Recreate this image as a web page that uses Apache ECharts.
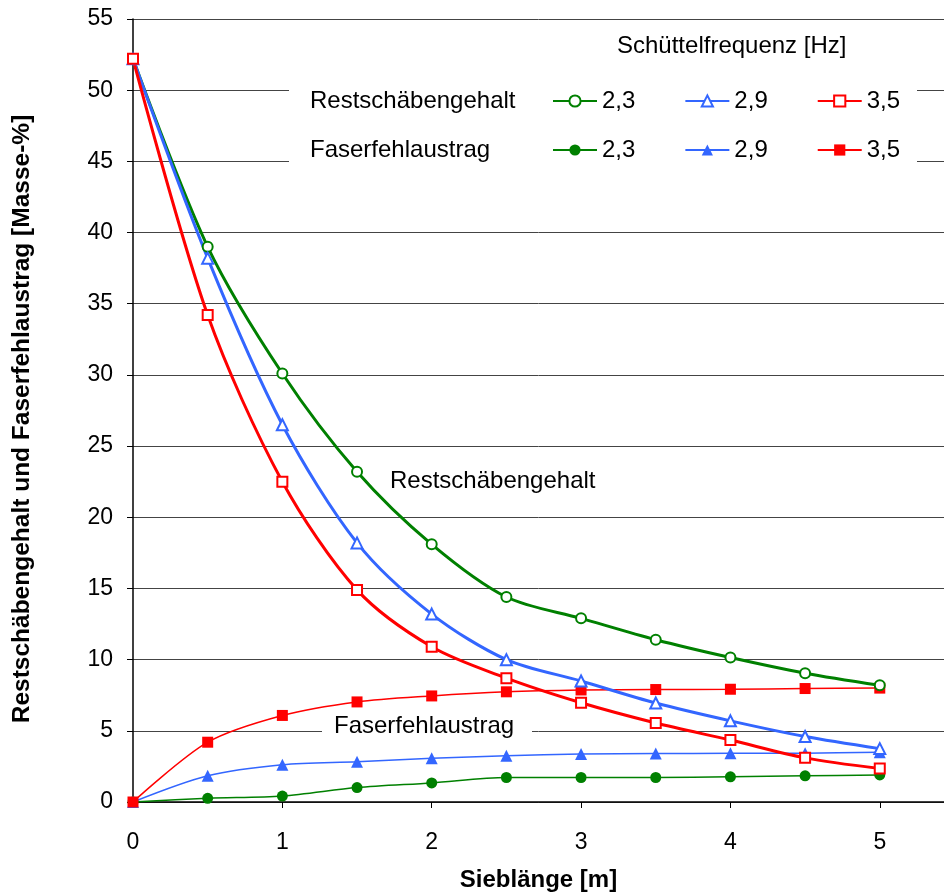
<!DOCTYPE html>
<html>
<head>
<meta charset="utf-8">
<script src="https://cdn.jsdelivr.net/npm/echarts@6/dist/echarts.min.js"></script>
<style>html,body{margin:0;padding:0;background:#fff;}#c{width:944px;height:895px;}</style>
</head>
<body>
<div id="c"></div>
<script>
const xs = [0, 0.5, 1, 1.5, 2, 2.5, 3, 3.5, 4, 4.5, 5];
const rest23 = [52.2, 39.0, 30.1, 23.2, 18.1, 14.4, 12.9, 11.4, 10.15, 9.05, 8.2];
const rest29 = [52.2, 38.2, 26.5, 18.2, 13.2, 10.0, 8.5, 6.95, 5.7, 4.6, 3.75];
const rest35 = [52.2, 34.2, 22.5, 14.9, 10.9, 8.7, 6.97, 5.55, 4.35, 3.1, 2.35];
const faser23 = [0, 0.26, 0.42, 1.01, 1.34, 1.72, 1.72, 1.72, 1.77, 1.84, 1.9];
const faser29 = [0, 1.84, 2.62, 2.83, 3.07, 3.25, 3.37, 3.4, 3.42, 3.43, 3.5];
const faser35 = [0, 4.2, 6.08, 7.03, 7.45, 7.74, 7.87, 7.9, 7.92, 7.97, 8.0];
const yTicks = [0, 5, 10, 15, 20, 25, 30, 35, 40, 45, 50, 55];
const xTicks = [0, 1, 2, 3, 4, 5];

const FONT = 'Liberation Sans, Arial, sans-serif';
const GREEN = '#008000', BLUE = '#3366FF', RED = '#FF0000';

function pairs(vals) { return xs.map((x, i) => [x, vals[i]]); }

function restSeries(name, vals, color, symbol, size) {
  return {
    name: name, type: 'line', data: pairs(vals), smooth: 0.3,
    symbol: symbol, symbolSize: size, showAllSymbol: true,
    lineStyle: { color: color, width: 3 },
    itemStyle: { color: color, borderColor: color, borderWidth: 1.5 },
    z: 3
  };
}
function faserSeries(name, vals, color, symbol, size) {
  return {
    name: name, type: 'line', data: pairs(vals), smooth: 0.3,
    symbol: symbol, symbolSize: size, showAllSymbol: true,
    lineStyle: { color: color, width: 1.5 },
    itemStyle: { color: color, borderColor: color, borderWidth: 0 },
    z: 2
  };
}

const legendText = n => n.split(' ')[1];
const chart = echarts.init(document.getElementById('c'));
chart.setOption({
  animation: false,
  backgroundColor: '#fff',
  textStyle: { fontFamily: FONT },
  grid: { left: 133, top: 19, right: 0, bottom: 93, containLabel: false, outerBoundsMode: 'none' },
  xAxis: {
    type: 'value', min: 0, max: 5.43, interval: 1,
    axisLine: { show: true, lineStyle: { color: '#000', width: 1.5 } },
    axisTick: { show: true, inside: false, length: 6, lineStyle: { color: '#000', width: 1 } },
    splitLine: { show: false },
    axisLabel: {
      fontSize: 23, color: '#000', fontFamily: FONT, margin: 29,
      formatter: v => xTicks.indexOf(v) >= 0 ? String(v) : ''
    },
    name: 'Sieblänge [m]', nameLocation: 'middle', nameGap: 66,
    nameTextStyle: { fontSize: 24, fontWeight: 'bold', color: '#000', fontFamily: FONT }
  },
  yAxis: {
    type: 'value', min: 0, max: 55, interval: 5,
    axisLine: { show: true, lineStyle: { color: '#000', width: 1.5 } },
    axisTick: { show: true, inside: false, length: 6, lineStyle: { color: '#000', width: 1 } },
    splitLine: { show: true, lineStyle: { color: '#444', width: 1 } },
    axisLabel: {
      fontSize: 23, color: '#000', fontFamily: FONT, margin: 20,
      formatter: v => yTicks.indexOf(v) >= 0 ? String(v) : ''
    },
    name: 'Restschäbengehalt und Faserfehlaustrag [Masse-%]', nameLocation: 'middle', nameGap: 98,
    nameTextStyle: { fontSize: 24.5, fontWeight: 'bold', color: '#000', fontFamily: FONT, padding: [0, 17, 0, 0] }
  },
  legend: [
    {
      data: ['R 2,3', 'R 2,9', 'R 3,5'], left: 552, top: 89, padding: 0,
      itemWidth: 44, itemHeight: 14, itemGap: 49, formatter: legendText,
      textStyle: { fontSize: 24, color: '#000', fontFamily: FONT, lineHeight: 24 },
      z: 10, selectedMode: false
    },
    {
      data: ['F 2,3', 'F 2,9', 'F 3,5'], left: 552, top: 138, padding: 0,
      itemWidth: 44, itemHeight: 14, itemGap: 49, formatter: legendText,
      textStyle: { fontSize: 24, color: '#000', fontFamily: FONT, lineHeight: 24 },
      z: 10, selectedMode: false
    }
  ],
  graphic: [
    { type: 'rect', z: 5, shape: { x: 289, y: 28, width: 628, height: 146 }, style: { fill: '#fff' } },
    { type: 'text', z: 10, x: 617, y: 46, style: { text: 'Schüttelfrequenz [Hz]', font: '24px ' + FONT, fill: '#000', verticalAlign: 'middle' } },
    { type: 'text', z: 10, x: 310, y: 101, style: { text: 'Restschäbengehalt', font: '24px ' + FONT, fill: '#000', verticalAlign: 'middle' } },
    { type: 'text', z: 10, x: 310, y: 150, style: { text: 'Faserfehlaustrag', font: '24px ' + FONT, fill: '#000', verticalAlign: 'middle' } },
    { type: 'text', z: 10, x: 390, y: 481, style: { text: 'Restschäbengehalt', font: '24px ' + FONT, fill: '#000', verticalAlign: 'middle' } },
    { type: 'rect', z: 5, shape: { x: 322, y: 715, width: 210, height: 24 }, style: { fill: '#fff' } },
    { type: 'text', z: 10, x: 334, y: 726, style: { text: 'Faserfehlaustrag', font: '24px ' + FONT, fill: '#000', verticalAlign: 'middle' } }
  ],
  series: [
    faserSeries('F 2,3', faser23, GREEN, 'circle', 11),
    faserSeries('F 2,9', faser29, BLUE, 'triangle', 12),
    faserSeries('F 3,5', faser35, RED, 'rect', 11),
    restSeries('R 2,3', rest23, GREEN, 'emptyCircle', 10),
    restSeries('R 2,9', rest29, BLUE, 'emptyTriangle', 11),
    restSeries('R 3,5', rest35, RED, 'emptyRect', 10)
  ]
});
</script>
</body>
</html>
